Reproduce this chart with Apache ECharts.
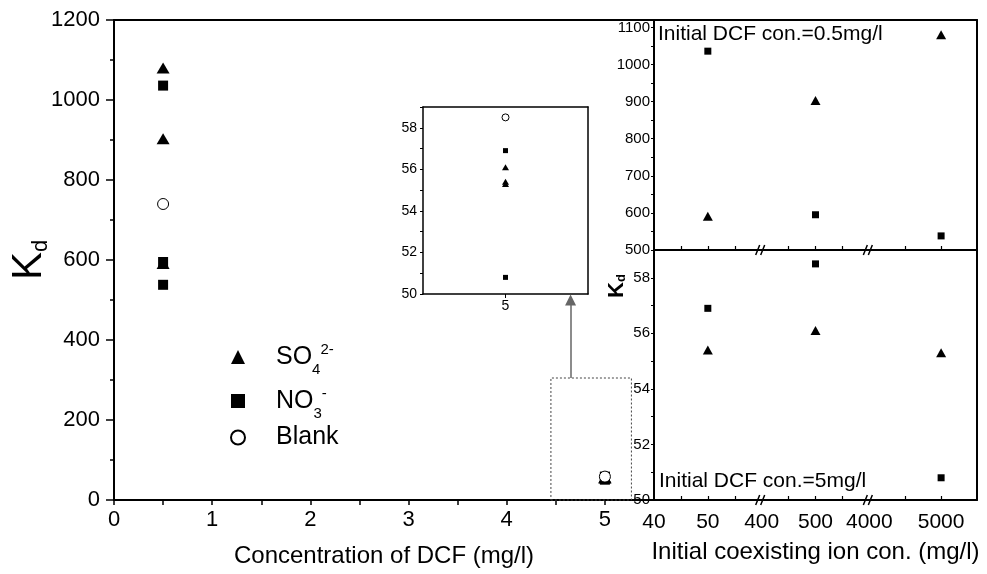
<!DOCTYPE html>
<html>
<head>
<meta charset="utf-8">
<script src="https://cdn.jsdelivr.net/npm/echarts@6/dist/echarts.min.js"></script>
<style>
html, body { margin: 0; padding: 0; background: #fff; }
#main { width: 987px; height: 574px; }
</style>
</head>
<body>
<div id="main"></div>
<script>
// initial DCF concentrations (mg/l)
var dcfLow = 0.5, dcfHigh = 5;
// coexisting ion concentrations (mg/l)
var ions = [50, 500, 5000];
// Kd, initial DCF 0.5 mg/l
var so4Low = [591, 903, 1080];
var no3Low = [1036, 595, 538];
var blankLow = 740;
// Kd, initial DCF 5 mg/l
var so4High = [55.4, 56.1, 55.3];
var no3High = [56.9, 58.5, 50.8];
var blankHigh = 58.5;

// broken ion axis: segment ranges, labels and ticks
var segMin = [40, 400, 4000];
var segMax = [60, 600, 5500];
var segLabels = [[40, 50], [400, 500], [4000, 5000]];
var segTicks = [[45, 50, 55], [450, 500, 550], [4500, 5000]];

var FONT = 'Liberation Sans';
var K = '#000';
var plain = function (v) { return String(v); };

var chart = echarts.init(document.getElementById('main'));

var grids = [], xAxes = [], yAxes = [], series = [], graphics = [];

function addGrid(r) {
  grids.push({left: r.left, top: r.top, width: r.width, height: r.height, outerBoundsMode: 'none', containLabel: false});
  return grids.length - 1;
}
function lineOnly(o, w) {
  return Object.assign({
    type: 'value',
    axisLine: {show: w > 0, onZero: false, lineStyle: {color: K, width: w}},
    axisLabel: {show: false}, axisTick: {show: false}, splitLine: {show: false}
  }, o);
}
function addX(o) { xAxes.push(o); return xAxes.length - 1; }
function addY(o) { yAxes.push(o); return yAxes.length - 1; }
function pairs(x, ys) { return ys.map(function (v) { return [x, v]; }); }

var triStyle = {symbol: 'triangle', itemStyle: {color: K, opacity: 1}};
var rectStyle = {symbol: 'rect', itemStyle: {color: K, opacity: 1}};
var circStyle = {symbol: 'circle', itemStyle: {color: '#fff', borderColor: K, borderWidth: 1, opacity: 1}};

function scatter(name, base, size, xi, yi, data, z) {
  return Object.assign({
    type: 'scatter', name: name, symbolSize: size, xAxisIndex: xi, yAxisIndex: yi,
    data: data, z: z || 3, silent: true, emphasis: {disabled: true}
  }, base);
}

// ---------- main chart ----------
var M = {left: 114, top: 20, width: 540, height: 480};
var gm = addGrid(M);
var mx = addX({
  type: 'value', gridIndex: gm, min: 0, max: 5.5,
  name: 'Concentration of DCF (mg/l)', nameLocation: 'middle', nameGap: 44, nameMoveOverlap: false,
  nameTextStyle: {fontFamily: FONT, fontSize: 24, color: K},
  axisLine: {onZero: false, lineStyle: {color: K, width: 2}},
  axisTick: {customValues: [0, 0.5, 1, 1.5, 2, 2.5, 3, 3.5, 4, 4.5, 5], length: 5, lineStyle: {color: K, width: 1.5}},
  axisLabel: {customValues: [0, 1, 2, 3, 4, 5], formatter: plain, fontFamily: FONT, fontSize: 22, color: K, margin: 9},
  splitLine: {show: false}
});
addX(lineOnly({gridIndex: gm, position: 'top', min: 0, max: 5.5}, 2));
var my = addY({
  type: 'value', gridIndex: gm, min: 0, max: 1200, interval: 200,
  name: '{k|K}{d|d}', nameLocation: 'middle', nameGap: 62, nameRotate: 90, nameMoveOverlap: false,
  nameTextStyle: {rich: {
    k: {fontFamily: FONT, fontSize: 42, lineHeight: 46, color: K},
    d: {fontFamily: FONT, fontSize: 22, lineHeight: 6, verticalAlign: 'bottom', color: K}
  }},
  axisLine: {onZero: false, lineStyle: {color: K, width: 2}},
  axisTick: {length: 8, lineStyle: {color: K, width: 1.5}},
  minorTick: {show: true, splitNumber: 2, length: 4, lineStyle: {color: K, width: 1.5}},
  axisLabel: {formatter: plain, fontFamily: FONT, fontSize: 22, color: K, margin: 14},
  splitLine: {show: false}
});

var mainSO4 = scatter('SO4', triStyle, [13, 11], mx, my, pairs(dcfLow, so4Low).concat(pairs(dcfHigh, so4High)));
var mainNO3 = scatter('NO3', rectStyle, 10, mx, my, pairs(dcfLow, no3Low).concat(pairs(dcfHigh, no3High)));
var mainBlank = scatter('Blank', circStyle, 11, mx, my, [[dcfLow, blankLow], [dcfHigh, blankHigh]], 4);
// dotted zoom box around DCF = 5 and arrow to the inset
mainBlank.markArea = {
  silent: true,
  itemStyle: {color: 'rgba(0,0,0,0)', borderColor: '#444', borderWidth: 1, borderType: [2, 2]},
  label: {show: false},
  data: [[{coord: [4.45, 0]}, {coord: [5.27, 305]}]]
};
mainBlank.markLine = {
  silent: true, symbol: ['none', 'triangle'], symbolSize: 11,
  lineStyle: {color: '#666', width: 1.5, type: 'solid'},
  itemStyle: {color: '#111'},
  label: {show: false},
  data: [[{coord: [4.65, 305]}, {coord: [4.65, 500]}]]
};
series.push(mainSO4, mainNO3, mainBlank);

// ---------- inset (DCF = 5, zoomed) ----------
var I = {left: 423, top: 107, width: 165, height: 187};
grids.push({left: I.left, top: I.top, width: I.width, height: I.height, show: true, backgroundColor: '#fff', borderWidth: 0, outerBoundsMode: 'none'});
var gi = grids.length - 1;
var ix = addX({
  type: 'value', gridIndex: gi, min: 4.5, max: 5.5,
  axisLine: {onZero: false, lineStyle: {color: K, width: 1.5}},
  axisTick: {customValues: [5], length: 4, lineStyle: {color: K}},
  axisLabel: {customValues: [5], fontFamily: FONT, fontSize: 14, color: K, margin: 5},
  splitLine: {show: false}
});
addX(lineOnly({gridIndex: gi, position: 'top', min: 4.5, max: 5.5}, 1.5));
var iy = addY({
  type: 'value', gridIndex: gi, min: 50, max: 59,
  axisLine: {onZero: false, lineStyle: {color: K, width: 1.5}},
  axisTick: {customValues: [50, 51, 52, 53, 54, 55, 56, 57, 58, 59], length: 3, lineStyle: {color: K}},
  axisLabel: {customValues: [50, 52, 54, 56, 58], fontFamily: FONT, fontSize: 14, color: K, margin: 6},
  splitLine: {show: false}
});
addY(lineOnly({gridIndex: gi, position: 'right', min: 50, max: 59}, 1.5));
series.push(
  scatter('SO4', triStyle, [7, 6], ix, iy, pairs(dcfHigh, so4High), 10),
  scatter('NO3', rectStyle, 5, ix, iy, pairs(dcfHigh, no3High), 10),
  scatter('Blank', circStyle, 7, ix, iy, [[dcfHigh, blankHigh]], 11)
);

// ---------- right panels: Kd vs coexisting ion concentration ----------
var P = {left: 654, width: 323};
var panels = [
  {top: 20, height: 230, min: 500, max: 1120, labels: [500, 600, 700, 800, 900, 1000, 1100],
   ticks: [500, 550, 600, 650, 700, 750, 800, 850, 900, 950, 1000, 1050, 1100],
   so4: so4Low, no3: no3Low, bottomLabels: false},
  {top: 250, height: 250, min: 50, max: 59, labels: [50, 52, 54, 56, 58],
   ticks: [50, 51, 52, 53, 54, 55, 56, 57, 58, 59],
   so4: so4High, no3: no3High, bottomLabels: true}
];

panels.forEach(function (p) {
  var gf = addGrid({left: P.left, top: p.top, width: P.width, height: p.height});
  var fx = {type: 'value', gridIndex: gf, min: 0, max: 1};
  if (p.bottomLabels) {
    fx.name = 'Initial coexisting ion con. (mg/l)';
    fx.nameLocation = 'middle';
    fx.nameGap = 40;
    fx.nameMoveOverlap = false;
    fx.nameTextStyle = {fontFamily: FONT, fontSize: 24, color: K};
  }
  addX(lineOnly(fx, 2));
  addX(lineOnly({gridIndex: gf, position: 'top', min: 0, max: 1}, 2));
  addY({
    type: 'value', gridIndex: gf, min: p.min, max: p.max,
    axisLine: {onZero: false, lineStyle: {color: K, width: 2}},
    axisTick: {customValues: p.ticks, length: 3, lineStyle: {color: K}},
    axisLabel: {customValues: p.labels, formatter: plain, fontFamily: FONT, fontSize: 15, color: K, margin: 4},
    splitLine: {show: false}
  });
  addY(lineOnly({gridIndex: gf, position: 'right', min: p.min, max: p.max}, 2));

  for (var s = 0; s < segMin.length; s++) {
    var gs = addGrid({left: P.left + s * P.width / 3, top: p.top, width: P.width / 3, height: p.height});
    var sx = addX({
      type: 'value', gridIndex: gs, min: segMin[s], max: segMax[s],
      axisLine: {show: false, onZero: false},
      axisTick: {inside: true, customValues: segTicks[s], length: 4, lineStyle: {color: K, width: 1.2}},
      axisLabel: {show: p.bottomLabels, customValues: segLabels[s], formatter: plain, fontFamily: FONT, fontSize: 21, color: K, margin: 12},
      splitLine: {show: false}
    });
    var sy = addY(lineOnly({gridIndex: gs, min: p.min, max: p.max}, 0));
    var so4Pts = [], no3Pts = [];
    ions.forEach(function (c, i) {
      if (c >= segMin[s] && c <= segMax[s]) {
        so4Pts.push([c, p.so4[i]]);
        no3Pts.push([c, p.no3[i]]);
      }
    });
    series.push(
      scatter('SO4', triStyle, [10, 9], sx, sy, so4Pts),
      scatter('NO3', rectStyle, 7, sx, sy, no3Pts)
    );
  }

  // axis break marks
  [1, 2].forEach(function (k) {
    var bx = P.left + k * P.width / 3, by = p.top + p.height;
    graphics.push(
      {type: 'line', z: 100, shape: {x1: bx - 6, y1: by + 5, x2: bx - 2, y2: by - 5}, style: {stroke: K, lineWidth: 1.5}},
      {type: 'line', z: 100, shape: {x1: bx - 1, y1: by + 5, x2: bx + 3, y2: by - 5}, style: {stroke: K, lineWidth: 1.5}}
    );
  });
});

graphics.push(
  {type: 'text', left: 658, top: 24, z: 100,
   style: {text: 'Initial DCF con.=0.5mg/l', fontFamily: FONT, fontSize: 21, fill: K}},
  {type: 'text', left: 659, top: 471, z: 100,
   style: {text: 'Initial DCF con.=5mg/l', fontFamily: FONT, fontSize: 21, fill: K}},
  {type: 'text', x: 617, y: 286, rotation: Math.PI / 2, z: 100,
   style: {text: '{k|K}{d|d}', align: 'center', verticalAlign: 'middle',
     rich: {
       k: {fontFamily: FONT, fontSize: 22, fontWeight: 'bold', lineHeight: 22, fill: K},
       d: {fontFamily: FONT, fontSize: 13, fontWeight: 'bold', lineHeight: 12, verticalAlign: 'bottom', fill: K}
     }}}
);

chart.setOption({
  animation: false,
  backgroundColor: '#fff',
  grid: grids,
  xAxis: xAxes,
  yAxis: yAxes,
  series: series,
  graphic: graphics,
  legend: {
    data: ['SO4', 'NO3', 'Blank'],
    orient: 'vertical', left: 225, top: 332,
    itemWidth: 14, itemHeight: 14, itemGap: 4,
    selectedMode: false,
    formatter: function (n) {
      if (n === 'SO4') return '{g|}{b|SO}{sub|4}{sup|2-}';
      if (n === 'NO3') return '{g|}{b|NO}{sub|3}{sup|-}';
      return '{g|}{b|Blank}';
    },
    textStyle: {
      rich: {
        g: {width: 26, lineHeight: 40},
        b: {fontFamily: FONT, fontSize: 25, lineHeight: 40, color: K},
        sub: {fontFamily: FONT, fontSize: 15, lineHeight: 15, verticalAlign: 'bottom', color: K},
        sup: {fontFamily: FONT, fontSize: 15, lineHeight: 15, verticalAlign: 'top', padding: [5, 0, 0, 0], color: K}
      }
    }
  }
});
</script>
</body>
</html>
